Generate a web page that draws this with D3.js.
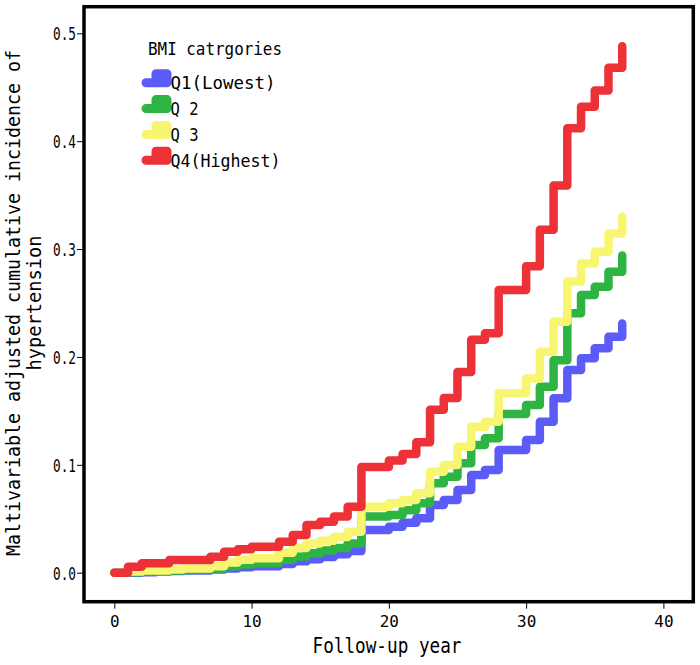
<!DOCTYPE html>
<html><head><meta charset="utf-8">
<script src="https://cdn.jsdelivr.net/npm/d3@7"></script>
<style>body{margin:0;background:#fff} svg{display:block}</style>
</head><body><svg id="c" width="700" height="665"></svg>
<script>
const years = [0,1,2,3,4,5,6,7,8,9,10,11,12,13,14,15,16,17,18,19,20,21,22,23,24,25,26,27,28,29,30,31,32,33,34,35,36,37];
const q1Lowest = [0,0,0.0005,0.001,0.0015,0.002,0.002,0.003,0.004,0.005,0.006,0.006,0.008,0.0105,0.0125,0.0145,0.017,0.020,0.0396,0.0396,0.0426,0.0463,0.0504,0.0627,0.0674,0.0766,0.0905,0.0952,0.1137,0.1137,0.123,0.140,0.1616,0.1879,0.1987,0.208,0.2187,0.231];
const q2 = [0,0.0005,0.001,0.0015,0.002,0.0025,0.003,0.004,0.006,0.0075,0.009,0.009,0.012,0.015,0.018,0.0205,0.023,0.027,0.052,0.052,0.0535,0.058,0.0643,0.0829,0.089,0.1014,0.1184,0.1246,0.147,0.147,0.1554,0.1724,0.197,0.2404,0.2574,0.265,0.279,0.294];
const q3 = [0,0.001,0.002,0.002,0.003,0.004,0.004,0.006,0.0095,0.012,0.0135,0.0135,0.0185,0.023,0.027,0.0297,0.033,0.038,0.0612,0.0612,0.0643,0.0674,0.0736,0.0936,0.0998,0.1168,0.1353,0.140,0.1663,0.1663,0.180,0.2048,0.2326,0.270,0.2867,0.2975,0.3145,0.330];
const q4Highest = [0,0.0056,0.0087,0.0087,0.0118,0.0118,0.0118,0.0148,0.0195,0.0217,0.024,0.024,0.0287,0.035,0.0442,0.0473,0.052,0.0612,0.098,0.098,0.104,0.110,0.121,0.151,0.162,0.186,0.216,0.222,0.262,0.262,0.284,0.318,0.359,0.412,0.432,0.447,0.468,0.488];
const seriesNames = ["Q1(Lowest)","Q 2","Q 3","Q4(Highest)"];
const seriesColors = ["#5b5cf8","#2eb442","#f8f670","#ec3137"];
const xTicks = [0,10,20,30,40];
const yTicks = [0,0.1,0.2,0.3,0.4,0.5];
const xTitle = "Follow-up year";
const yTitleLines = ["Maltivariable adjusted cumulative incidence of","hypertension"];
const legendTitle = "BMI catrgories";

const FONT = "'DejaVu Sans Mono', monospace";
const svg = d3.select("#c");
const x = d3.scaleLinear().domain([0,40]).range([114.3,663.4]);
const y = d3.scaleLinear().domain([0,0.5]).range([572.7,33.3]);

const allSeries = [q1Lowest,q2,q3,q4Highest];
const line = d3.line().x(d=>x(d[0])).y(d=>y(d[1])).curve(d3.curveStepAfter);

svg.append("g").selectAll("path").data(allSeries).join("path")
  .attr("d", s => line(years.map((yr,i)=>[yr,s[i]])))
  .attr("fill","none")
  .attr("stroke",(s,i)=>seriesColors[i])
  .attr("stroke-width",8.5)
  .attr("stroke-linecap","round")
  .attr("stroke-linejoin","round");

// y axis
const gy = svg.append("g").attr("transform","translate(84,0)")
  .call(d3.axisLeft(y).tickValues(yTicks).tickSize(7).tickFormat(d3.format(".1f")));
gy.select(".domain").remove();
gy.selectAll(".tick line").attr("stroke","#000").attr("stroke-width",1);
gy.selectAll(".tick text").attr("x",-8).attr("dy","0.36em")
  .attr("font-family",FONT).attr("font-size",18).attr("fill","#000")
  .attr("textLength",23).attr("lengthAdjust","spacingAndGlyphs");

// x axis
const gx = svg.append("g").attr("transform","translate(0,601.7)")
  .call(d3.axisBottom(x).tickValues(xTicks).tickSize(7).tickFormat(d3.format("d")));
gx.select(".domain").remove();
gx.selectAll(".tick line").attr("stroke","#000").attr("stroke-width",1);
gx.selectAll(".tick text").attr("y",25.3).attr("dy",0)
  .attr("font-family",FONT).attr("font-size",16).attr("fill","#000")
  .attr("textLength",d=>String(d).length*9.6).attr("lengthAdjust","spacingAndGlyphs");

// frame
svg.append("rect").attr("x",84).attr("y",6.7).attr("width",693.3-84).attr("height",601.7-6.7)
  .attr("fill","none").attr("stroke","#000").attr("stroke-width",3.5);

// axis titles
svg.append("text").attr("x",387).attr("y",653).attr("text-anchor","middle")
  .attr("font-family",FONT).attr("font-size",20.6).attr("fill","#000")
  .attr("textLength",149).attr("lengthAdjust","spacingAndGlyphs").text(xTitle);

const yTitleX = [19.5, 41];
const yTitleLen = [506, 135];
yTitleLines.forEach((t,i)=>{
  svg.append("text").attr("transform",`translate(${yTitleX[i]},303) rotate(-90)`)
    .attr("text-anchor","middle")
    .attr("font-family",FONT).attr("font-size",19.5).attr("fill","#000")
    .attr("textLength",yTitleLen[i]).attr("lengthAdjust","spacingAndGlyphs").text(t);
});

// legend
svg.append("text").attr("x",148).attr("y",55)
  .attr("font-family",FONT).attr("font-size",17).attr("fill","#000")
  .attr("textLength",134).attr("lengthAdjust","spacingAndGlyphs").text(legendTitle);
const legLens = [105, 28, 28, 110];
const lg = svg.append("g");
seriesNames.forEach((n,i)=>{
  const b = 89.3 + i*25.8;
  lg.append("path")
    .attr("d",`M146,${b-6.5} H156 V${b-15.5} H167 V${b-6.5} H156`)
    .attr("fill","none").attr("stroke",seriesColors[i]).attr("stroke-width",9)
    .attr("stroke-linecap","round").attr("stroke-linejoin","round");
  lg.append("text").attr("x",170.5).attr("y",b)
    .attr("font-family",FONT).attr("font-size",18.3).attr("fill","#000")
    .attr("textLength",legLens[i]).attr("lengthAdjust","spacingAndGlyphs").text(n);
});
</script></body></html>
